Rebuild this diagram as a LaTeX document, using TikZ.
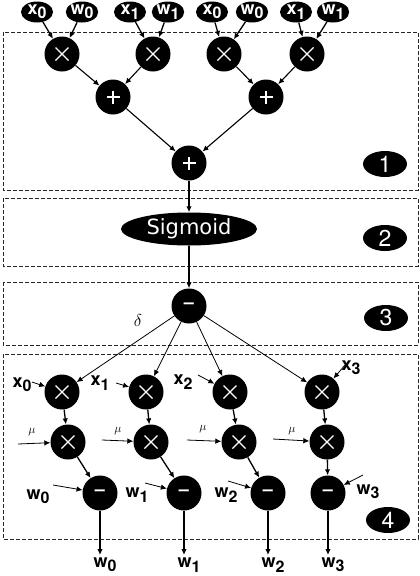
\documentclass[tikz,border=0pt]{standalone}
\usepackage{fontspec}
\setmainfont{TeX Gyre Heros}
\newfontfamily\sigfont{DejaVu Sans}
\usetikzlibrary{shapes.geometric, arrows.meta, positioning}
\tikzset{
  op/.style={circle, fill=black, text=white, minimum size=35pt, inner sep=0pt},
  mul/.style={op, path picture={
    \draw [white, line width=1.3pt]
      ([shift={(-6.5pt,-6.5pt)}]path picture bounding box.center) -- ([shift={(6.5pt,6.5pt)}]path picture bounding box.center)
      ([shift={(-6.5pt,6.5pt)}]path picture bounding box.center) -- ([shift={(6.5pt,-6.5pt)}]path picture bounding box.center);}},
  add/.style={op, path picture={
    \draw [white, line width=1.1pt]
      ([shift={(-6.5pt,0pt)}]path picture bounding box.center) -- ([shift={(6.5pt,0pt)}]path picture bounding box.center)
      ([shift={(0pt,-6.5pt)}]path picture bounding box.center) -- ([shift={(0pt,6.5pt)}]path picture bounding box.center);}},
  inp/.style={ellipse, fill=black, text=white, minimum width=32pt, minimum height=21pt, inner sep=0pt},
  tag/.style={ellipse, fill=black, text=white, minimum width=44pt, minimum height=26pt, inner sep=0pt, font=\fontsize{23}{23}\selectfont},
  stage/.style={draw=black!85, dash pattern=on 4pt off 2pt, line width=0.8pt},
  lbl/.style={inner sep=0pt, font=\bfseries},
  arrow/.style={-{Latex[length=6pt,width=5.5pt]}, line width=1.3pt},
  thinarrow/.style={-{Latex[length=6pt,width=5.5pt]}, line width=0.8pt}
}
\newcommand{\idx}[2]{\fontsize{18}{18}\selectfont #1\raisebox{-0.45ex}{\fontsize{16}{16}\selectfont #2}}
\newcommand{\dif}{\fontsize{18}{18}\selectfont\bfseries --}

\begin{document}
\begin{tikzpicture}[x=1pt, y=-1pt]
    \useasboundingbox (0,0) rectangle (420,576);

    % Stufen
    \draw [stage] (3,32) rectangle (418,190);
    \draw [stage] (3,198) rectangle (418,266);
    \draw [stage] (3,282) rectangle (418,345);
    \draw [stage] (3,354) rectangle (418,539);

    \node (t1) [tag] at (385,164) {1};
    \node (t2) [tag] at (385,238) {2};
    \node (t3) [tag] at (386,318) {3};
    \node (t4) [tag] at (388,520) {4};

    % Eingaenge
    \node (ia) [inp] at (37,12) {\bfseries\idx{x}{0}};
    \node (ib) [inp] at (82,12) {\bfseries\idx{w}{0}};
    \node (ic) [inp] at (130,12) {\bfseries\idx{x}{1}};
    \node (id) [inp] at (168,12) {\bfseries\idx{w}{1}};
    \node (ie) [inp] at (212,12) {\bfseries\idx{x}{0}};
    \node (if) [inp] at (252,12) {\bfseries\idx{w}{0}};
    \node (ig) [inp] at (296,12) {\bfseries\idx{x}{1}};
    \node (ih) [inp] at (333,12) {\bfseries\idx{w}{1}};

    % Stufe 1
    \node (ma) [mul] at (62,54) {};
    \node (mb) [mul] at (153,54) {};
    \node (mc) [mul] at (224,54) {};
    \node (md) [mul] at (307,54) {};
    \node (pa) [add] at (113,97) {};
    \node (pb) [add] at (266,97) {};
    \node (ps) [add] at (189,163) {};

    \draw [arrow] (ia) -- (ma);
    \draw [arrow] (ib) -- (ma);
    \draw [arrow] (ic) -- (mb);
    \draw [arrow] (id) -- (mb);
    \draw [arrow] (ie) -- (mc);
    \draw [arrow] (if) -- (mc);
    \draw [arrow] (ig) -- (md);
    \draw [arrow] (ih) -- (md);
    \draw [thinarrow, line width=1.1pt] (ma) -- (pa);
    \draw [thinarrow, line width=1.1pt] (mb) -- (pa);
    \draw [thinarrow, line width=1.1pt] (mc) -- (pb);
    \draw [thinarrow, line width=1.1pt] (md) -- (pb);
    \draw [thinarrow, line width=1.1pt] (pa) -- (ps);
    \draw [thinarrow, line width=1.1pt] (pb) -- (ps);

    % Stufe 2 und 3
    \node (sig) [ellipse, fill=black, text=white, minimum width=136pt, minimum height=33pt, inner sep=0pt,
      font=\sigfont\fontsize{21}{21}\selectfont] at (189,229) {Sigmoid};
    \node (err) [op] at (189,306) {\dif};
    \draw [arrow] (ps) -- (sig);
    \draw [arrow] (sig) -- (err);
    \node [lbl] at (138,320) {\fontsize{17}{17}\selectfont$\delta$};

    % Stufe 4
    \foreach \i/\xa/\xb/\xc in {0/62/68/100, 1/146/151/184, 2/230/239/268, 3/322/327/328} {
      \node (a\i) [mul] at (\xa,392) {};
      \node (b\i) [mul] at (\xb,442) {};
      \node (c\i) [op] at (\xc,493) {\dif};
      \coordinate (o\i) at (\xc,555);
      \node [lbl] at (\xc+5,565) {\idx{w}{\i}};
      \draw [thinarrow] (err) -- (a\i);
      \draw [arrow] (a\i) -- (b\i);
      \draw [arrow] (b\i) -- (c\i);
      \draw [arrow] (c\i) -- (o\i);
    }

    % Nebeneingaenge
    \foreach \i/\px/\py/\lx/\ly in {0/32/382/22/385, 1/116/383/100/383, 2/198/375/183/382, 3/345/365/351/368} {
      \coordinate (x\i) at (\px,\py);
      \node [lbl] at (\lx,\ly) {\idx{x}{\i}};
      \draw [thinarrow] (x\i) -- (a\i);
    }
    \foreach \i/\px/\py/\lx/\ly in {0/18/444/32/432, 1/102/440/118/431, 2/187/440/203/429, 3/273/439/292/431} {
      \coordinate (u\i) at (\px,\py);
      \node [lbl] at (\lx,\ly) {\fontsize{12}{12}\selectfont$\mu$};
      \draw [thinarrow] (u\i) -- (b\i);
    }
    \foreach \i/\px/\py/\lx/\ly in {0/53/485/38/497, 1/145/483/137/495, 2/228/481/226/495, 3/363/475/368/492} {
      \coordinate (v\i) at (\px,\py);
      \node [lbl] at (\lx,\ly) {\idx{w}{\i}};
      \draw [thinarrow] (v\i) -- (c\i);
    }

\end{tikzpicture}
\end{document}
